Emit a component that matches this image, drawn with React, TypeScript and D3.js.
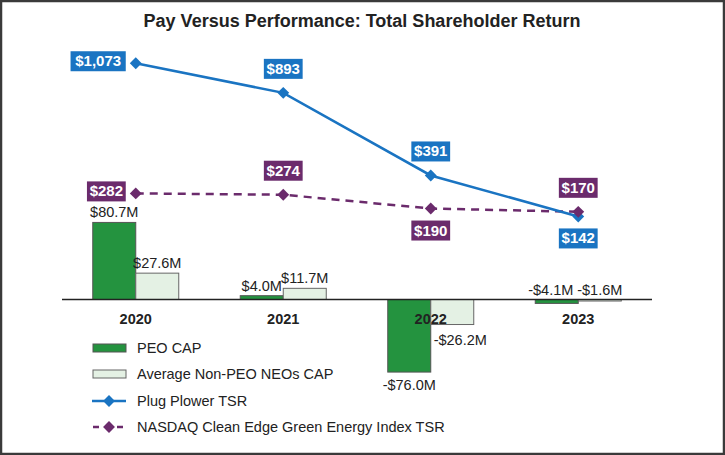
import React from "react";
import * as d3 from "d3";

const years = ["2020", "2021", "2022", "2023"];
const peoCap = [80.7, 4.0, -76.0, -4.1];
const neoCap = [27.6, 11.7, -26.2, -1.6];
const plugTsr = [1073, 893, 391, 142];
const nasdaqTsr = [282, 274, 190, 170];
const peoLabels = ["$80.7M", "$4.0M", "-$76.0M", "-$4.1M"];
const neoLabels = ["$27.6M", "$11.7M", "-$26.2M", "-$1.6M"];
const plugLabels = ["$1,073", "$893", "$391", "$142"];
const nasdaqLabels = ["$282", "$274", "$190", "$170"];
// label placement: l = left, a = above, b = below
const plugPos = ["l", "a", "a", "b"];
const nasdaqPos = ["l", "a", "b", "a"];

const W = 725;
const H = 455;
const BLUE = "#1a74c2";
const PURPLE = "#6b2b6c";
const GREEN = "#24933f";
const LIGHT = "#e4f1e4";
const FONT = "'Liberation Sans', Arial, Helvetica, sans-serif";

const x = d3.scaleBand().domain(years).range([62, 652]).paddingInner(0).paddingOuter(0);
const barY = d3.scaleLinear().domain([-100, 100]).range([395, 204]);
const lineY = d3.scaleLinear().domain([0, 1100]).range([239.8, 58.8]);
const barW = 43;

const diamond = d3.symbol().type(d3.symbolDiamond2).size(90);

function Box({ cx, cy, text, color, w }: { cx: number; cy: number; text: string; color: string; w: number }) {
  return (
    <g>
      <rect x={cx - w / 2} y={cy - 10} width={w} height={20} fill={color} />
      <text x={cx} y={cy + 5} textAnchor="middle" fill="#fff" fontWeight="bold" fontSize={15} fontFamily={FONT}>
        {text}
      </text>
    </g>
  );
}

export default function App() {
  const cx = (i: number) => (x(years[i]) as number) + x.bandwidth() / 2;
  const zero = barY(0);
  const line = d3
    .line<number>()
    .x((_, i) => cx(i))
    .y((v) => lineY(v));

  const boxW = (t: string) => t.length * 8.2 + 6;

  const placeBox = (i: number, v: number, pos: string, t: string) => {
    const px = cx(i);
    const py = lineY(v);
    const w = boxW(t);
    if (pos === "l") return { x: px - 10 - w / 2, y: py - 2 };
    if (pos === "a") return { x: px, y: py - 24 };
    return { x: px, y: py + 22 };
  };

  return (
    <div style={{ position: "fixed", left: 0, top: 0 }}>
      <svg width={W} height={H} style={{ display: "block" }}>
        <rect x={1} y={1} width={W - 2} height={H - 2} fill="#fff" stroke="#3a3a3a" strokeWidth={2.5} />
        <text x={362} y={27} textAnchor="middle" fontWeight="bold" fontSize={18} fontFamily="'Liberation Sans Narrow', 'Arial Narrow', 'Liberation Sans', Arial, sans-serif" fill="#222" style={{ fontStretch: "condensed" }}>
          Pay Versus Performance: Total Shareholder Return
        </text>

        {/* bars */}
        {years.map((y, i) => {
          const bx = cx(i) - barW;
          const p = peoCap[i];
          const n = neoCap[i];
          return (
            <g key={y}>
              <rect x={bx} y={Math.min(barY(p), zero)} width={barW} height={Math.abs(barY(p) - zero)} fill={GREEN} stroke="#555" strokeWidth={1} />
              <rect x={bx + barW} y={Math.min(barY(n), zero)} width={barW} height={Math.abs(barY(n) - zero)} fill={LIGHT} stroke="#666" strokeWidth={1} />
            </g>
          );
        })}

        <line x1={62} x2={652} y1={zero} y2={zero} stroke="#222" strokeWidth={1.5} />

        {/* bar labels */}
        {years.map((y, i) => {
          const p = peoCap[i];
          const n = neoCap[i];
          const pcx = cx(i) - barW / 2;
          const ncx = cx(i) + barW / 2;
          const small = Math.abs(p) < 10;
          const py = p >= 0 || small ? Math.min(barY(p), zero) - 5 : barY(p) + 18;
          const nsmall = Math.abs(n) < 10;
          const ny = n >= 0 || nsmall ? Math.min(barY(n), zero) - 5 : barY(n) + 20;
          const nx = n < 0 && !nsmall ? ncx + 8 : ncx;
          const px = small && p < 0 ? pcx - 6 : pcx;
          return (
            <g key={y} fontSize={14.5} fontFamily={FONT} fill="#222">
              <text x={px} y={py} textAnchor="middle">{peoLabels[i]}</text>
              <text x={nx} y={ny} textAnchor="middle">{neoLabels[i]}</text>
            </g>
          );
        })}

        {/* category labels */}
        {years.map((y, i) => (
          <text key={y} x={cx(i)} y={324} textAnchor="middle" fontWeight="bold" fontSize={14.5} fontFamily={FONT} fill="#222">
            {y}
          </text>
        ))}

        {/* lines */}
        <path d={line(nasdaqTsr) || ""} fill="none" stroke={PURPLE} strokeWidth={2.5} strokeDasharray="8,6" />
        <path d={line(plugTsr) || ""} fill="none" stroke={BLUE} strokeWidth={2.5} />
        {plugTsr.map((v, i) => (
          <path key={"pd" + i} d={diamond() || ""} transform={`translate(${cx(i)},${lineY(v)})`} fill={BLUE} />
        ))}
        {nasdaqTsr.map((v, i) => (
          <path key={"nd" + i} d={diamond() || ""} transform={`translate(${cx(i)},${lineY(v)})`} fill={PURPLE} />
        ))}

        {plugTsr.map((v, i) => {
          const b = placeBox(i, v, plugPos[i], plugLabels[i]);
          return <Box key={"pb" + i} cx={b.x} cy={b.y} text={plugLabels[i]} color={BLUE} w={boxW(plugLabels[i])} />;
        })}
        {nasdaqTsr.map((v, i) => {
          const b = placeBox(i, v, nasdaqPos[i], nasdaqLabels[i]);
          return <Box key={"nb" + i} cx={b.x} cy={b.y} text={nasdaqLabels[i]} color={PURPLE} w={boxW(nasdaqLabels[i])} />;
        })}

        {/* legend */}
        <g fontSize={14.5} fontFamily={FONT} fill="#222">
          <rect x={93} y={344} width={33} height={8} fill={GREEN} stroke="#555" strokeWidth={1} />
          <text x={137} y={353}>PEO CAP</text>
          <rect x={93} y={370} width={33} height={8} fill={LIGHT} stroke="#666" strokeWidth={1} />
          <text x={137} y={379}>Average Non-PEO NEOs CAP</text>
          <line x1={92} x2={126} y1={401} y2={401} stroke={BLUE} strokeWidth={2.5} />
          <path d={diamond() || ""} transform="translate(109,401)" fill={BLUE} />
          <text x={137} y={406}>Plug Plower TSR</text>
          <line x1={92} x2={126} y1={427} y2={427} stroke={PURPLE} strokeWidth={2.5} strokeDasharray="6,6" strokeDashoffset={-1} />
          <path d={diamond() || ""} transform="translate(109,427)" fill={PURPLE} />
          <text x={137} y={432}>NASDAQ Clean Edge Green Energy Index TSR</text>
        </g>
      </svg>
    </div>
  );
}
